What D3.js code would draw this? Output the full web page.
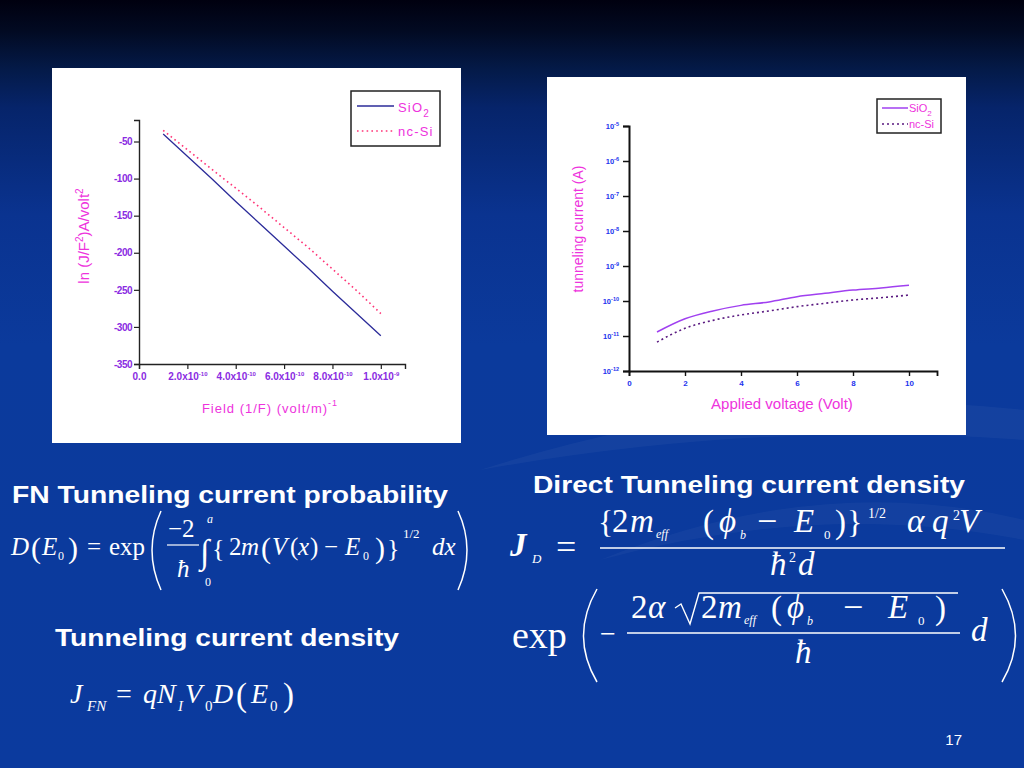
<!DOCTYPE html>
<html><head><meta charset="utf-8">
<script src="https://cdn.jsdelivr.net/npm/d3@7"></script>
<style>body{margin:0;background:#0b3a9e;} svg{display:block}</style>
</head><body><svg id="s" width="1024" height="768"></svg>
<script>
// ---------- DATA ----------
// Left chart: FN plot, ln(J/F^2) vs 1/F
const fnField = [1e-10, 2e-10, 3e-10, 4e-10, 5e-10, 6e-10, 7e-10, 8e-10, 9e-10, 1e-9];
const fnSiO2  = [-40, -70, -100, -131, -161, -191, -221, -252, -282, -312];
const fnNcSi  = [-35, -61, -87, -113, -139, -166, -193, -222, -251, -282];
const fnYTicks = [-350, -300, -250, -200, -150, -100, -50];
const fnYMinor = [-325, -275, -225, -175, -125, -75, -25];
const fnXTicks = [0, 2e-10, 4e-10, 6e-10, 8e-10, 1e-9];
const fnXMinor = [1e-10, 3e-10, 5e-10, 7e-10, 9e-10, 1.1e-9];
const fnXTickLabels = ["0.0", "2.0x10", "4.0x10", "6.0x10", "8.0x10", "1.0x10"];
const fnXTickExps = ["", "-10", "-10", "-10", "-10", "-9"];
const fnSeries = ["SiO", "nc-Si"];
// Right chart: direct tunneling current vs applied voltage
const dtVoltage = [1, 2, 3, 4, 5, 6, 7, 8, 9, 10];
const dtSiO2 = [1.3e-11, 3.1e-11, 5.2e-11, 7.5e-11, 9.4e-11, 1.33e-10, 1.66e-10, 2.06e-10, 2.35e-10, 2.8e-10];
const dtNcSi = [6.7e-12, 1.66e-11, 2.8e-11, 4.0e-11, 5.2e-11, 6.9e-11, 8.6e-11, 1.07e-10, 1.24e-10, 1.48e-10];
const dtYTicks = [1e-12, 1e-11, 1e-10, 1e-9, 1e-8, 1e-7, 1e-6, 1e-5];
const dtYExps = ["-12", "-11", "-10", "-9", "-8", "-7", "-6", "-5"];
const dtXTicks = [0, 2, 4, 6, 8, 10];
const dtXMinor = [1, 3, 5, 7, 9, 11];

// ---------- SETUP ----------
const svg = d3.select("#s");
const defs = svg.append("defs");
const bg = defs.append("linearGradient").attr("id", "bg").attr("x1", 0).attr("y1", 0).attr("x2", 0).attr("y2", 1);
[[0, "#00000f"], [0.04, "#020a22"], [0.09, "#041a48"], [0.14, "#06246a"], [0.28, "#0a3390"], [0.45, "#0b3a9c"], [1, "#0b3a9e"]]
  .forEach(([o, c]) => bg.append("stop").attr("offset", o).attr("stop-color", c));
svg.append("rect").attr("width", 1024).attr("height", 768).attr("fill", "url(#bg)");
// faint swooshes
svg.append("path").attr("d", "M480,470 Q760,380 1024,410 L1024,440 Q760,420 480,470 Z").attr("fill", "#ffffff").attr("opacity", 0.04);
svg.append("path").attr("d", "M600,560 Q820,470 1024,520 L1024,540 Q820,500 600,560 Z").attr("fill", "#ffffff").attr("opacity", 0.035);

function mt(g, x, y, s, o = {}) {
  return g.append("text").attr("x", x).attr("y", y).text(s)
    .attr("fill", o.fill || "#fff")
    .attr("font-family", o.family || "Liberation Serif, Times New Roman, serif")
    .attr("font-size", o.size || 22)
    .attr("font-style", o.italic ? "italic" : "normal")
    .attr("font-weight", o.bold ? "bold" : "normal")
    .attr("text-anchor", o.anchor || "start");
}

// ---------- LEFT CHART ----------
const L = svg.append("g");
L.append("rect").attr("x", 52).attr("y", 68).attr("width", 409).attr("height", 375).attr("fill", "#fff");
const xL = d3.scaleLinear().domain([0, 1.1e-9]).range([139, 405]);
const yL = d3.scaleLinear().domain([-350, -21]).range([364, 120]);
const tickPurple = "#8a2be2", titleMag = "#ee33dd";

const gxL = L.append("g").attr("transform", `translate(0,${yL(-350)})`);
gxL.call(d3.axisBottom(xL).tickValues(fnXMinor).tickSize(4).tickFormat(""));
gxL.call(d3.axisBottom(xL).tickValues(fnXTicks).tickSize(5).tickPadding(4).tickFormat(() => ""));
gxL.selectAll(".tick").filter(d => fnXTicks.includes(d)).select("text").each(function (d) {
  const i = fnXTicks.indexOf(d);
  const t = d3.select(this);
  t.append("tspan").text(fnXTickLabels[i]);
  if (fnXTickExps[i]) t.append("tspan").attr("dy", -4).attr("font-size", 6).text(fnXTickExps[i]);
});
gxL.selectAll("text").attr("fill", tickPurple).attr("font-family", "Liberation Sans Narrow, Liberation Sans, sans-serif")
  .attr("font-weight", "bold").attr("font-size", 10);
gxL.select(".domain").attr("stroke", "#222").attr("stroke-width", 1.4);
gxL.selectAll(".tick line").attr("stroke", "#222").attr("stroke-width", 1.2);

const gyL = L.append("g").attr("transform", `translate(${xL(0)},0)`);
gyL.call(d3.axisLeft(yL).tickValues(fnYMinor).tickSize(3).tickFormat(""));
gyL.call(d3.axisLeft(yL).tickValues(fnYTicks).tickSize(5).tickPadding(2).tickFormat(d => d));
gyL.selectAll("text").attr("fill", tickPurple).attr("font-family", "Liberation Sans Narrow, Liberation Sans, sans-serif")
  .attr("font-weight", "bold").attr("font-size", 10).attr("letter-spacing", -0.5);
gyL.select(".domain").attr("stroke", "#222").attr("stroke-width", 1.4);
gyL.selectAll(".tick line").attr("stroke", "#222").attr("stroke-width", 1.2);

const lineL = d3.line().x(d => xL(d[0])).y(d => yL(d[1]));
L.append("path").datum(fnField.map((f, i) => [f, fnNcSi[i]])).attr("d", lineL)
  .attr("fill", "none").attr("stroke", "#ff3377").attr("stroke-width", 1.6).attr("stroke-dasharray", "1.6,3.2");
L.append("path").datum(fnField.map((f, i) => [f, fnSiO2[i]])).attr("d", lineL)
  .attr("fill", "none").attr("stroke", "#2b2b99").attr("stroke-width", 1.3);

// legend
L.append("rect").attr("x", 351).attr("y", 91).attr("width", 89).attr("height", 55).attr("fill", "#fff").attr("stroke", "#222").attr("stroke-width", 1.5);
L.append("line").attr("x1", 357).attr("x2", 394).attr("y1", 106).attr("y2", 106).attr("stroke", "#2b2b99").attr("stroke-width", 1.5);
L.append("line").attr("x1", 357).attr("x2", 394).attr("y1", 131).attr("y2", 131).attr("stroke", "#ff3377").attr("stroke-width", 1.6).attr("stroke-dasharray", "1.6,3.2");
const lg1 = mt(L, 398, 112, fnSeries[0], { fill: titleMag, family: "Liberation Sans, sans-serif", size: 13 }).attr("letter-spacing", 1.2);
lg1.append("tspan").attr("dy", 5).attr("font-size", 10).text("2");
mt(L, 398, 136, fnSeries[1], { fill: titleMag, family: "Liberation Sans, sans-serif", size: 13 }).attr("letter-spacing", 1.2);

// axis titles
const ytL = L.append("text").attr("transform", "translate(89,236) rotate(-90)").attr("text-anchor", "middle")
  .attr("fill", titleMag).attr("font-family", "Liberation Sans, sans-serif").attr("font-size", 15);
ytL.append("tspan").text("ln (J/F");
ytL.append("tspan").attr("dy", -6).attr("font-size", 10).text("2");
ytL.append("tspan").attr("dy", 6).text(")A/volt");
ytL.append("tspan").attr("dy", -6).attr("font-size", 10).text("2");
const xtL = mt(L, 270, 413, "Field (1/F) (volt/m)", { fill: titleMag, family: "Liberation Sans, sans-serif", size: 13, anchor: "middle" }).attr("letter-spacing", 1);
xtL.append("tspan").attr("dy", -7).attr("font-size", 9).text("-1");

// ---------- RIGHT CHART ----------
const R = svg.append("g");
R.append("rect").attr("x", 547).attr("y", 77).attr("width", 419).attr("height", 358).attr("fill", "#fff");
const xR = d3.scaleLinear().domain([0, 11]).range([629, 937]);
const yR = d3.scaleLog().domain([1e-12, 1e-5]).range([371, 126]);
const tickBlue = "#2233ee", purple = "#a040f0", darkPurple = "#5a1a80";

const gxR = R.append("g").attr("transform", `translate(0,${yR(1e-12)})`);
gxR.call(d3.axisBottom(xR).tickValues(dtXMinor).tickSize(3).tickFormat(""));
gxR.call(d3.axisBottom(xR).tickValues(dtXTicks).tickSize(5).tickPadding(4).tickFormat(d => d));
gxR.selectAll("text").attr("fill", tickBlue).attr("font-family", "Liberation Sans Narrow, Liberation Sans, sans-serif").attr("font-weight", "bold").attr("font-size", 8);
gxR.select(".domain").attr("stroke", "#111").attr("stroke-width", 1.8);
gxR.selectAll(".tick line").attr("stroke", "#111").attr("stroke-width", 1.4);

const yMinorR = [];
dtYTicks.slice(0, -1).forEach(t => { for (let k = 2; k <= 9; k++) yMinorR.push(t * k); });
const gyR = R.append("g").attr("transform", `translate(${xR(0)},0)`);
gyR.call(d3.axisLeft(yR).tickValues(yMinorR).tickSize(4).tickFormat(""));
gyR.call(d3.axisLeft(yR).tickValues(dtYTicks).tickSize(6).tickPadding(4).tickFormat(() => ""));
gyR.selectAll(".tick").filter(d => dtYTicks.includes(d)).select("text").each(function (d) {
  const i = dtYTicks.indexOf(d);
  const t = d3.select(this);
  t.append("tspan").text("10");
  t.append("tspan").attr("dy", -3).attr("font-size", 5.5).text(dtYExps[i]);
});
gyR.selectAll("text").attr("fill", tickBlue).attr("font-family", "Liberation Sans Narrow, Liberation Sans, sans-serif").attr("font-weight", "bold").attr("font-size", 7.5);
gyR.select(".domain").attr("stroke", "#111").attr("stroke-width", 2);
gyR.selectAll(".tick line").attr("stroke", "#111").attr("stroke-width", 1.5);

const lineR = d3.line().x(d => xR(d[0])).y(d => yR(d[1])).curve(d3.curveMonotoneX);
R.append("path").datum(dtVoltage.map((v, i) => [v, dtNcSi[i]])).attr("d", lineR)
  .attr("fill", "none").attr("stroke", darkPurple).attr("stroke-width", 1.6).attr("stroke-dasharray", "2,3");
R.append("path").datum(dtVoltage.map((v, i) => [v, dtSiO2[i]])).attr("d", lineR)
  .attr("fill", "none").attr("stroke", purple).attr("stroke-width", 1.5);

R.append("rect").attr("x", 877).attr("y", 99).attr("width", 64).attr("height", 34).attr("fill", "#fff").attr("stroke", "#222").attr("stroke-width", 1.5);
R.append("line").attr("x1", 882).attr("x2", 908).attr("y1", 108).attr("y2", 108).attr("stroke", purple).attr("stroke-width", 1.5);
R.append("line").attr("x1", 882).attr("x2", 908).attr("y1", 124).attr("y2", 124).attr("stroke", darkPurple).attr("stroke-width", 1.6).attr("stroke-dasharray", "2,3");
const lg2 = mt(R, 909, 112, fnSeries[0], { fill: titleMag, family: "Liberation Sans Narrow, Liberation Sans, sans-serif", size: 11 });
lg2.append("tspan").attr("dy", 4).attr("font-size", 8).text("2");
mt(R, 909, 128, fnSeries[1], { fill: titleMag, family: "Liberation Sans Narrow, Liberation Sans, sans-serif", size: 11 });

R.append("text").attr("transform", "translate(583,229) rotate(-90)").attr("text-anchor", "middle")
  .attr("fill", titleMag).attr("font-family", "Liberation Sans, sans-serif").attr("font-size", 14).text("tunneling current (A)");
mt(R, 782, 409, "Applied voltage  (Volt)", { fill: titleMag, family: "Liberation Sans Narrow, Liberation Sans, sans-serif", size: 15, anchor: "middle" });

// ---------- TEXT & FORMULAS ----------
const T = svg.append("g");
const H = { family: "Liberation Sans, Arial, sans-serif", bold: true, size: 24 };
mt(T, 12, 503, "FN Tunneling current probability", H).attr("textLength", 436).attr("lengthAdjust", "spacingAndGlyphs");
mt(T, 533, 493, "Direct Tunneling current density", H).attr("textLength", 432).attr("lengthAdjust", "spacingAndGlyphs");
mt(T, 55, 646, "Tunneling current density", H).attr("textLength", 344).attr("lengthAdjust", "spacingAndGlyphs");
mt(T, 962, 745, "17", { family: "Liberation Sans, Arial, sans-serif", size: 15, anchor: "end" });

const it = { italic: true };
// Formula 1: D(E0) = exp( -2/ħ ∫0^a {2m(V(x) - E0)}^{1/2} dx )
const F1 = T.append("g");
const s1 = 25;
mt(F1, 11, 555, "D", { ...it, size: s1 });
mt(F1, 31, 558, "(", { size: 30 });
mt(F1, 42, 555, "E", { ...it, size: s1 });
mt(F1, 58, 560, "0", { size: 12 });
mt(F1, 68, 558, ")", { size: 30 });
mt(F1, 87, 555, "=", { size: s1 });
mt(F1, 109, 555, "exp", { size: s1 });
F1.append("path").attr("d", "M161,511 Q143,550 161,590").attr("fill", "none").attr("stroke", "#fff").attr("stroke-width", 1.5);
mt(F1, 168, 537, "−2", { size: s1 });
F1.append("line").attr("x1", 167).attr("x2", 199).attr("y1", 545).attr("y2", 545).attr("stroke", "#fff").attr("stroke-width", 1.2);
mt(F1, 177, 577, "ħ", { ...it, size: s1 });
mt(F1, 200, 563, "∫", { size: 34 });
mt(F1, 207, 523, "a", { ...it, size: 12 });
mt(F1, 205, 586, "0", { size: 12 });
mt(F1, 212, 557, "{", { size: 26 });
mt(F1, 229, 555, "2", { size: s1 });
mt(F1, 241, 555, "m", { ...it, size: s1 });
mt(F1, 261, 558, "(", { size: 30 });
mt(F1, 272, 555, "V", { ...it, size: s1 });
mt(F1, 290, 555, "(", { size: s1 });
mt(F1, 298, 555, "x", { ...it, size: s1 });
mt(F1, 310, 555, ")", { size: s1 });
mt(F1, 324, 555, "−", { size: s1 });
mt(F1, 345, 555, "E", { ...it, size: s1 });
mt(F1, 363, 560, "0", { size: 12 });
mt(F1, 375, 558, ")", { size: 30 });
mt(F1, 387, 557, "}", { size: 26 });
mt(F1, 403, 538, "1/2", { size: 13 });
mt(F1, 432, 555, "dx", { ...it, size: s1 });
F1.append("path").attr("d", "M458,511 Q476,550 458,590").attr("fill", "none").attr("stroke", "#fff").attr("stroke-width", 1.5);

// Formula 3: J_FN = q N_I V_0 D(E_0)
const F3 = T.append("g");
const s3 = 28;
mt(F3, 70, 703, "J", { ...it, size: s3 });
mt(F3, 87, 711, "FN", { ...it, size: 15 });
mt(F3, 116, 703, "=", { size: s3 });
mt(F3, 143, 703, "q", { ...it, size: s3 });
mt(F3, 157, 703, "N", { ...it, size: s3 });
mt(F3, 178, 711, "I", { ...it, size: 15 });
mt(F3, 185, 703, "V", { ...it, size: s3 });
mt(F3, 205, 711, "0", { size: 15 });
mt(F3, 213, 703, "D", { ...it, size: s3 });
mt(F3, 236, 706, "(", { size: 33 });
mt(F3, 251, 703, "E", { ...it, size: s3 });
mt(F3, 270, 711, "0", { size: 15 });
mt(F3, 283, 706, ")", { size: 33 });

// Formula 2: Direct tunneling
const F2 = T.append("g");
const s2 = 33;
mt(F2, 510, 556, "J", { ...it, bold: true, size: s2 });
mt(F2, 532, 563, "D", { ...it, size: 13 });
mt(F2, 556, 559, "=", { size: 36 });
// numerator line 1
mt(F2, 598, 533, "{", { size: 32 });
mt(F2, 612, 532, "2", { size: s2 });
mt(F2, 630, 532, "m", { ...it, size: s2 });
mt(F2, 656, 538, "eff", { ...it, size: 12 });
mt(F2, 703, 533, "(", { size: 33 });
mt(F2, 719, 532, "ϕ", { ...it, size: s2 });
mt(F2, 740, 539, "b", { ...it, size: 12 });
mt(F2, 757, 533, "−", { size: 36 });
mt(F2, 794, 532, "E", { ...it, size: s2 });
mt(F2, 824, 539, "0", { size: 13 });
mt(F2, 835, 533, ")", { size: 33 });
mt(F2, 847, 533, "}", { size: 32 });
mt(F2, 868, 518, "1/2", { size: 14 });
mt(F2, 907, 532, "α", { ...it, size: s2 });
mt(F2, 932, 532, "q", { ...it, size: s2 });
mt(F2, 953, 520, "2", { size: 14 });
mt(F2, 959, 532, "V", { ...it, size: s2 });
F2.append("line").attr("x1", 600).attr("x2", 1005).attr("y1", 548).attr("y2", 548).attr("stroke", "#fff").attr("stroke-width", 1.3);
mt(F2, 770, 575, "ħ", { ...it, size: s2 });
mt(F2, 789, 562, "2", { size: 14 });
mt(F2, 798, 575, "d", { ...it, size: s2 });
// line 2
mt(F2, 512, 648, "exp", { size: 38 });
F2.append("path").attr("d", "M597,589 Q570,636 597,682").attr("fill", "none").attr("stroke", "#fff").attr("stroke-width", 1.5);
mt(F2, 600, 643, "−", { size: 28 });
mt(F2, 631, 618, "2", { size: s2 });
mt(F2, 648, 618, "α", { ...it, size: s2 });
F2.append("path").attr("d", "M675,608 L681,604 L690,624 L699,593 L958,593").attr("fill", "none").attr("stroke", "#fff").attr("stroke-width", 1.4);
mt(F2, 701, 618, "2", { size: s2 });
mt(F2, 718, 618, "m", { ...it, size: s2 });
mt(F2, 744, 624, "eff", { ...it, size: 12 });
mt(F2, 771, 619, "(", { size: 33 });
mt(F2, 787, 618, "ϕ", { ...it, size: s2 });
mt(F2, 807, 625, "b", { ...it, size: 12 });
mt(F2, 843, 619, "−", { size: 36 });
mt(F2, 888, 618, "E", { ...it, size: s2 });
mt(F2, 918, 625, "0", { size: 13 });
mt(F2, 935, 619, ")", { size: 33 });
F2.append("line").attr("x1", 627).attr("x2", 960).attr("y1", 633).attr("y2", 633).attr("stroke", "#fff").attr("stroke-width", 1.3);
mt(F2, 795, 663, "ħ", { ...it, size: s2 });
mt(F2, 971, 641, "d", { ...it, size: s2 });
F2.append("path").attr("d", "M1002,589 Q1029,636 1002,682").attr("fill", "none").attr("stroke", "#fff").attr("stroke-width", 1.5);
</script></body></html>
